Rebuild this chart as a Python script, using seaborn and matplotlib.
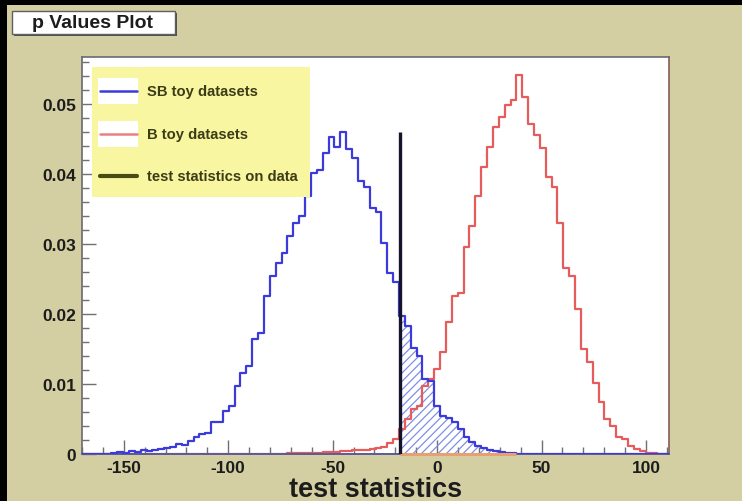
import numpy as np
import pandas as pd
import matplotlib
matplotlib.use("Agg")
import matplotlib.pyplot as plt
from matplotlib.patches import Rectangle
from matplotlib.lines import Line2D
from matplotlib.ticker import MultipleLocator
import seaborn as sns

# ---- binning of the toy test statistic ----
x_min, x_max, n_bins = -170.0, 111.0, 100

# normalised bin contents of the S+B toys, starting at bin index sb_first
sb_first = 5
sb_density = [
    0.0002, 0.0003, 0.0002, 0.0004, 0.0003, 0.0005, 0.0004, 0.0006, 0.0007, 0.0008,
    0.0010, 0.0014, 0.0013, 0.0019, 0.0024, 0.0029, 0.0030, 0.0045, 0.0046, 0.0062,
    0.0069, 0.0097, 0.0116, 0.0126, 0.0164, 0.0173, 0.0225, 0.0254, 0.0273, 0.0287,
    0.0311, 0.0330, 0.0340, 0.0368, 0.0401, 0.0405, 0.0430, 0.0453, 0.0439, 0.0460,
    0.0435, 0.0423, 0.0390, 0.0382, 0.0352, 0.0346, 0.0302, 0.0259, 0.0245, 0.0197,
    0.0183, 0.0152, 0.0140, 0.0107, 0.0104, 0.0068, 0.0054, 0.0052, 0.0045, 0.0036,
    0.0024, 0.0017, 0.0011, 0.0009, 0.0005, 0.0004, 0.0003, 0.0002, 0.0001,
]

# normalised bin contents of the B-only toys, starting at bin index b_first
b_first = 35
b_density = [
    0.0001, 0.0001, 0.0002, 0.0001, 0.0002, 0.0002, 0.0003, 0.0003, 0.0003, 0.0004,
    0.0004, 0.0005, 0.0005, 0.0006, 0.0007, 0.0008, 0.0010, 0.0016, 0.0022, 0.0036,
    0.0050, 0.0064, 0.0068, 0.0097, 0.0107, 0.0121, 0.0145, 0.0188, 0.0225, 0.0230,
    0.0296, 0.0325, 0.0368, 0.0410, 0.0439, 0.0467, 0.0481, 0.0499, 0.0506, 0.0541,
    0.0510, 0.0472, 0.0456, 0.0437, 0.0396, 0.0382, 0.0330, 0.0266, 0.0254, 0.0207,
    0.0150, 0.0131, 0.0102, 0.0074, 0.0050, 0.0040, 0.0024, 0.0021, 0.0012, 0.0007,
    0.0004, 0.0002, 0.0001,
]

# observed test statistic and height of its marker line
t_obs = -17.7
t_obs_height = 0.046

x_ticks = [-150, -100, -50, 0, 50, 100]
x_tick_labels = ["-150", "-100", "-50", "0", "50", "100"]
y_ticks = [0.0, 0.01, 0.02, 0.03, 0.04, 0.05]
y_tick_labels = ["0", "0.01", "0.02", "0.03", "0.04", "0.05"]
legend_labels = ["SB toy datasets", "B toy datasets", "test statistics on data"]

# ---- style ----
sns.set_style("white")
plt.rcParams["font.family"] = ["Liberation Sans", "DejaVu Sans"]
plt.rcParams["font.weight"] = "bold"
plt.rcParams["hatch.linewidth"] = 0.9

W, H = 742, 502
canvas = "#d3cfa3"
blue = "#3b3bdc"
red = "#e65c5c"
hatch_blue = "#7f8fe4"
ink = "#1c1c1c"


def fx(px):
    return px / W


def fy(py):
    return 1 - py / H


fig = plt.figure(figsize=(W / 100, H / 100), dpi=100, facecolor=canvas)
ax = fig.add_axes([fx(82), fy(455), (669 - 82) / W, (455 - 58) / H])
ax.set_facecolor("white")

edges = np.linspace(x_min, x_max, n_bins + 1)
centers = 0.5 * (edges[:-1] + edges[1:])
sb_full = np.zeros(n_bins)
sb_full[sb_first:sb_first + len(sb_density)] = sb_density
b_full = np.zeros(n_bins)
b_full[b_first:b_first + len(b_density)] = b_density
sb_df = pd.DataFrame({"t": centers, "w": sb_full})
b_df = pd.DataFrame({"t": centers, "w": b_full})
bin_list = edges.tolist()

# hatched tail of the S+B distribution beyond the observed value
k = np.searchsorted(edges, t_obs) - 1
xs = np.concatenate([[t_obs], edges[k + 1:]])
ys = np.concatenate([sb_full[k:], [sb_full[-1]]])
ax.fill_between(xs, ys, step="post", facecolor="none", edgecolor=hatch_blue,
                hatch="////", linewidth=0, zorder=1)
last_nz = np.nonzero(sb_full)[0][-1]
ax.hlines(0, t_obs, edges[last_nz + 1], color="#e8a070", lw=2.2, zorder=4, clip_on=False)

sns.histplot(data=b_df, x="t", weights="w", bins=bin_list, element="step", fill=False,
             color=red, linewidth=1.6, ax=ax, zorder=2)
sns.histplot(data=sb_df, x="t", weights="w", bins=bin_list, element="step", fill=False,
             color=blue, linewidth=1.6, ax=ax, zorder=3)

ax.vlines(t_obs, 0, t_obs_height, color="#14142a", lw=2.4, zorder=5)

ax.set_xlim(x_min, x_max)
ax.set_ylim(0, 0.0567)
ax.set_ylabel("")
ax.set_xlabel("test statistics", fontsize=19.5, fontweight="bold", color=ink, labelpad=1)

ax.set_xticks(x_ticks)
ax.set_xticklabels(x_tick_labels)
ax.set_yticks(y_ticks)
ax.set_yticklabels(y_tick_labels)
ax.xaxis.set_minor_locator(MultipleLocator(10))
ax.yaxis.set_minor_locator(MultipleLocator(0.002))
ax.tick_params(axis="both", which="both", direction="in", colors="#707070",
               labelcolor=ink, labelsize=12.5, top=False, right=False,
               bottom=True, left=True)
ax.tick_params(axis="x", which="major", length=10, width=1, pad=4)
ax.tick_params(axis="x", which="minor", length=5, width=1)
ax.tick_params(axis="y", which="major", length=10, width=1, pad=4)
ax.tick_params(axis="y", which="minor", length=5, width=1)
for lab in ax.get_xticklabels() + ax.get_yticklabels():
    lab.set_fontweight("bold")

for side in ["left", "top"]:
    ax.spines[side].set_color("#6a6a74")
    ax.spines[side].set_linewidth(1.2)
ax.spines["bottom"].set_color("#5a5a9a")
ax.spines["bottom"].set_linewidth(1.4)
ax.spines["right"].set_color("#8a5a58")
ax.spines["right"].set_linewidth(1.2)

# ---- legend box ----
fig.patches.append(Rectangle((fx(92), fy(198)), (310 - 92) / W, (198 - 68) / H,
                             transform=fig.transFigure, facecolor="#f9f6a2",
                             edgecolor="none", zorder=10))
legend_y = [92, 135, 177]
legend_colors = [blue, "#e98080", "#4a4a14"]
for i, (yy, col, lab) in enumerate(zip(legend_y, legend_colors, legend_labels)):
    if i < 2:
        fig.patches.append(Rectangle((fx(98), fy(yy + 13)), 40 / W, 26 / H,
                                     transform=fig.transFigure, facecolor="white",
                                     edgecolor="none", zorder=11))
    fig.lines.append(Line2D([fx(100), fx(137)], [fy(yy), fy(yy)],
                            transform=fig.transFigure, color=col,
                            lw=3 if i == 2 else 1.8, zorder=12))
    fig.text(fx(147), fy(yy), lab, fontsize=10.6, fontweight="bold",
             color="#3c3c16", va="center", ha="left", zorder=13)

# ---- canvas title box ----
fig.patches.append(Rectangle((fx(14), fy(37)), 163 / W, 23 / H,
                             transform=fig.transFigure, facecolor="#505050",
                             edgecolor="none", zorder=10))
fig.patches.append(Rectangle((fx(12), fy(35)), 163 / W, 23 / H,
                             transform=fig.transFigure, facecolor="white",
                             edgecolor="#606060", lw=1, zorder=11))
fig.text(fx(93), fy(23.5), "p Values Plot", fontsize=14, fontweight="bold",
         color=ink, ha="center", va="center", zorder=12)

# dark border of the window
fig.patches.append(Rectangle((0, 0), 7 / W, 1, transform=fig.transFigure,
                             facecolor="black", edgecolor="none", zorder=20))
fig.patches.append(Rectangle((0, fy(6)), 1, 6 / H, transform=fig.transFigure,
                             facecolor="black", edgecolor="none", zorder=20))

fig.savefig("out.png", dpi=100, facecolor=canvas)
